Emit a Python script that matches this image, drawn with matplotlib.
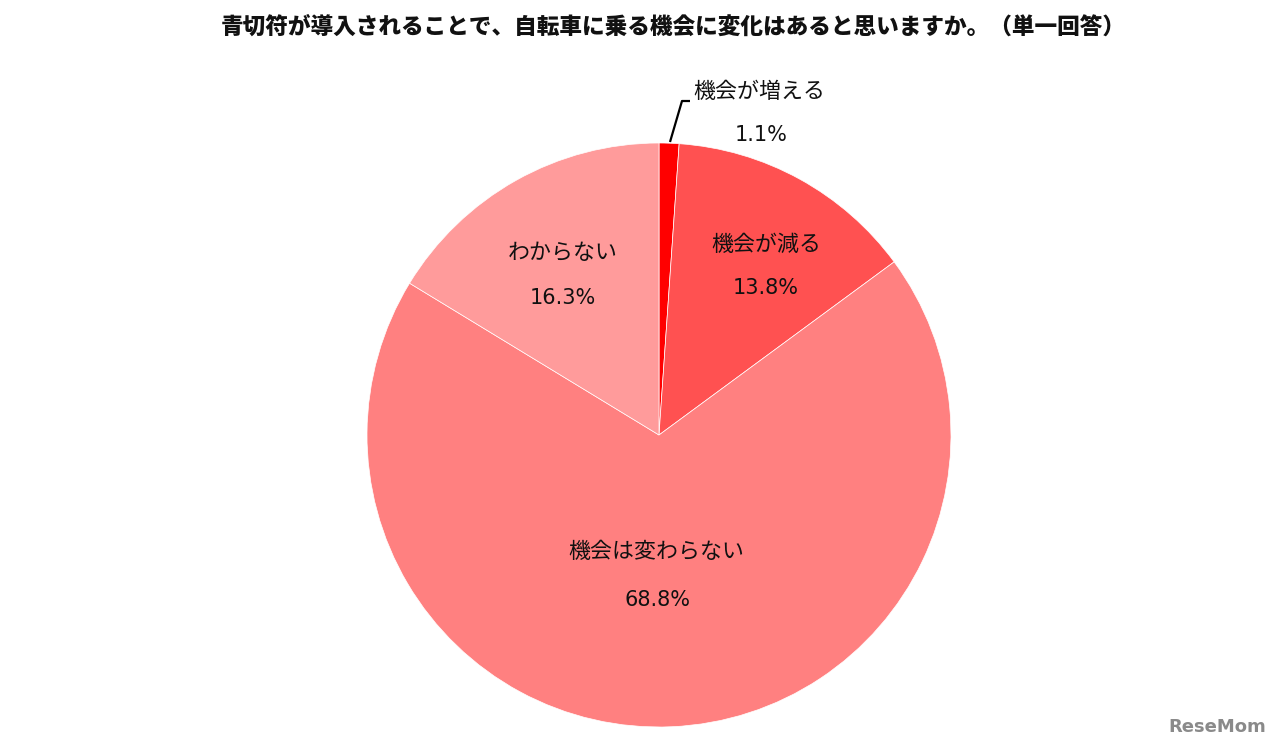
import matplotlib
matplotlib.use("Agg")
import matplotlib.pyplot as plt

plt.rcParams['font.family'] = ['Noto Sans CJK JP', 'DejaVu Sans']

title = "青切符が導入されることで、自転車に乗る機会に変化はあると思いますか。（単一回答）"
categories = ["機会が増える", "機会が減る", "機会は変わらない", "わからない"]
values = [1.1, 13.8, 68.8, 16.3]
colors = ["#FF0000", "#FF5151", "#FF8080", "#FF9B9B"]

W, H = 1280, 752
fig = plt.figure(figsize=(W / 100, H / 100), dpi=100)
ax = fig.add_axes([0, 0, 1, 1])

cx, cy, r = 659, 435, 292
ax.pie(values, colors=colors, startangle=90, counterclock=False,
       center=(cx, H - cy), radius=r,
       wedgeprops=dict(edgecolor='white', linewidth=0.5))
ax.set_xlim(0, W)
ax.set_ylim(0, H)
ax.set_aspect('equal')
ax.axis('off')

def Y(y):
    return H - y

fs = 15.8
label_pos = [(759, 92, 761, 135), (766, 245, 766, 288), (656, 552, 658, 600), (563, 253, 563, 298)]
for name, v, (lx, ly, px, py) in zip(categories, values, label_pos):
    ax.text(lx, Y(ly), name, ha='center', va='center', fontsize=fs, color='#111111')
    ax.text(px, Y(py), f"{v}%", ha='center', va='center', fontsize=15, color='#111111',
            family=['DejaVu Sans'])

# leader line for smallest slice
ax.plot([670, 682, 690], [Y(142), Y(101), Y(101)], color='black', lw=1.6, solid_capstyle='butt')

ax.text(673, Y(27), title, ha='center', va='center', fontsize=16.3, fontweight='heavy', color='#111111')

ax.text(1217, Y(727), "ReseMom", ha='center', va='center', fontsize=13, fontweight='bold',
        color='#8a8a8a', family=['DejaVu Sans'])

fig.savefig("out.png", dpi=100)
